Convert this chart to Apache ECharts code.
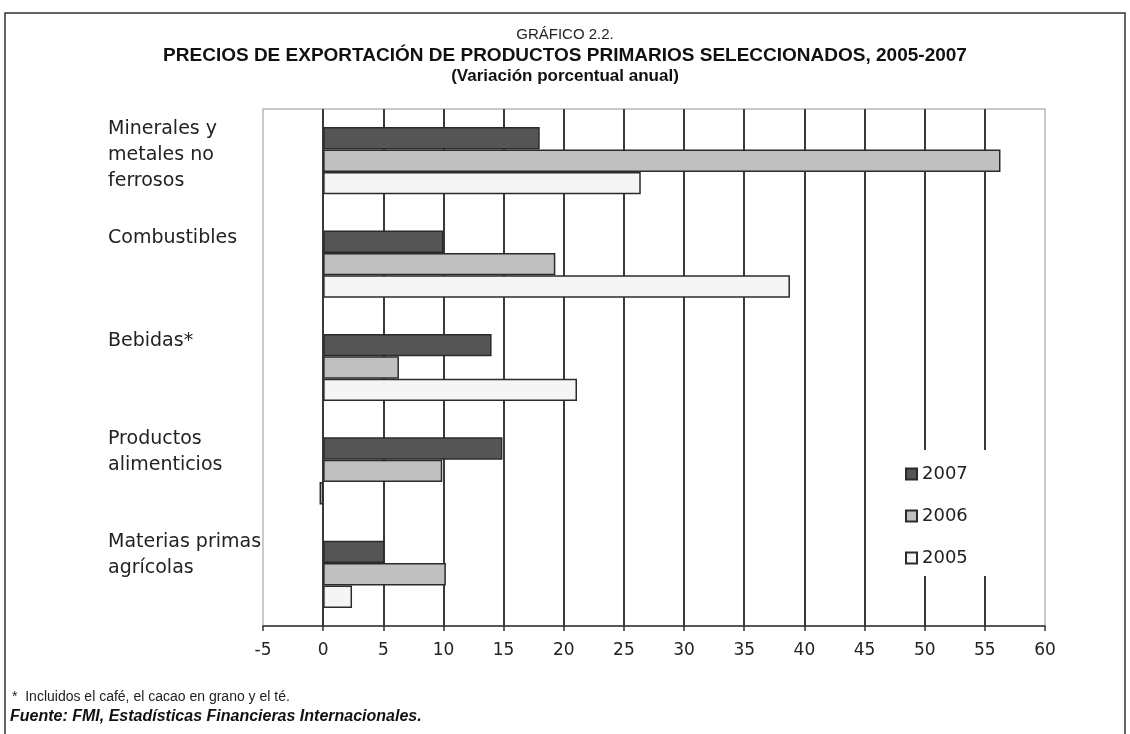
<!DOCTYPE html>
<html>
<head>
    <meta charset="utf-8">
    <script src="https://cdn.jsdelivr.net/npm/echarts@6/dist/echarts.min.js"></script>
</head>
<body style="margin:0;background:#fff;">
<div id="main" style="width: 1130px;height:734px;"></div>

<script type="text/javascript">

    // categorias (de arriba hacia abajo)
    var categorias = ['Minerales y\nmetales no\nferrosos', 'Combustibles', 'Bebidas*', 'Productos\nalimenticios', 'Materias primas\nagrícolas'];
    var anios = ['2007', '2006', '2005'];

    // variacion porcentual anual
    var datos2007 = [18.0, 10.0, 14.0, 14.9, 5.1];
    var datos2006 = [56.3, 19.3, 6.3, 9.9, 10.2];
    var datos2005 = [26.4, 38.8, 21.1, -0.3, 2.4];

    var ejeX = {min: -5, max: 60, intervalo: 5};

    var colores = ['#555555', '#c0c0c0', '#f5f5f5'];
    var fuenteEje = 'DejaVu Sans';
    var fuenteTitulo = 'Liberation Sans';

    var myChart = echarts.init(document.getElementById('main'));

    function serie(nombre, datos, color) {
        return {
            name: nombre,
            type: 'bar',
            data: datos,
            barGap: '0%',
            barCategoryGap: '35%',
            itemStyle: {
                color: color,
                borderColor: '#2b2b2b',
                borderWidth: 1.5
            }
        };
    }

    var option = {
        animation: false,
        backgroundColor: '#ffffff',
        title: [
            {
                text: 'GRÁFICO 2.2.',
                left: 'center',
                top: 22,
                textStyle: {fontFamily: fuenteTitulo, fontSize: 15, fontWeight: 'normal', color: '#222'}
            },
            {
                text: 'PRECIOS DE EXPORTACIÓN DE PRODUCTOS PRIMARIOS SELECCIONADOS, 2005-2007',
                left: 'center',
                top: 41,
                textStyle: {fontFamily: fuenteTitulo, fontSize: 19, fontWeight: 'bold', color: '#111'}
            },
            {
                text: '(Variación porcentual anual)',
                left: 'center',
                top: 63,
                textStyle: {fontFamily: fuenteTitulo, fontSize: 17, fontWeight: 'bold', color: '#111'}
            }
        ],
        legend: {
            data: anios,
            orient: 'vertical',
            left: 895,
            top: 450,
            padding: [15, 25, 9, 10],
            backgroundColor: '#ffffff',
            itemWidth: 11,
            itemHeight: 11,
            itemGap: 24,
            icon: 'rect',
            textStyle: {fontFamily: fuenteEje, fontSize: 18, color: '#222'}
        },
        grid: {
            left: 263,
            right: 85,
            top: 109,
            bottom: 108,
            show: true,
            borderColor: '#b8b8b8',
            borderWidth: 1.5,
            containLabel: false
        },
        xAxis: {
            type: 'value',
            min: ejeX.min,
            max: ejeX.max,
            interval: ejeX.intervalo,
            axisLine: {show: true, onZero: false, lineStyle: {color: '#333', width: 1.5}},
            axisTick: {show: true, length: 5, lineStyle: {color: '#333', width: 1.5}},
            axisLabel: {fontFamily: fuenteEje, fontSize: 17, color: '#222', margin: 16},
            splitLine: {
                show: true,
                showMinLine: false,
                showMaxLine: false,
                lineStyle: {color: '#3a3a3a', width: 2}
            }
        },
        yAxis: {
            type: 'category',
            inverse: true,
            data: categorias,
            axisLine: {show: false, onZero: false},
            axisTick: {show: false},
            axisLabel: {
                interval: 0,
                align: 'left',
                verticalAlign: 'middle',
                margin: 155,
                fontFamily: fuenteEje,
                fontSize: 19,
                lineHeight: 26,
                color: '#222',
                padding: [0, 0, 0, 0],
                rich: {
                    e: {fontSize: 1, lineHeight: 12}
                },
                formatter: function (valor) {
                    // siempre 3 lineas para que el texto quede arriba del grupo
                    var lineas = valor.split('\n');
                    var multi = lineas.length > 1;
                    while (lineas.length < 3) {
                        lineas.push(' ');
                    }
                    var txt = lineas.join('\n');
                    if (multi) {
                        txt += '\n{e| }';
                    }
                    return txt;
                }
            },
            splitLine: {show: false}
        },
        series: [
            serie(anios[0], datos2007, colores[0]),
            serie(anios[1], datos2006, colores[1]),
            serie(anios[2], datos2005, colores[2])
        ],
        graphic: [
            {
                // marco del grafico
                type: 'polyline',
                shape: {points: [[5, 734], [5, 13], [1125, 13], [1125, 734]]},
                style: {stroke: '#333', lineWidth: 1.5, fill: null},
                silent: true
            },
            {
                type: 'text',
                left: 12,
                top: 690,
                style: {
                    text: '*  Incluidos el café, el cacao en grano y el té.',
                    font: '14px "Liberation Sans"',
                    fill: '#222'
                }
            },
            {
                type: 'text',
                left: 10,
                top: 709,
                style: {
                    text: 'Fuente: FMI, Estadísticas Financieras Internacionales.',
                    font: 'italic bold 16px "Liberation Sans"',
                    fill: '#111'
                }
            }
        ]
    };

    myChart.setOption(option);

</script>
</body>
</html>
